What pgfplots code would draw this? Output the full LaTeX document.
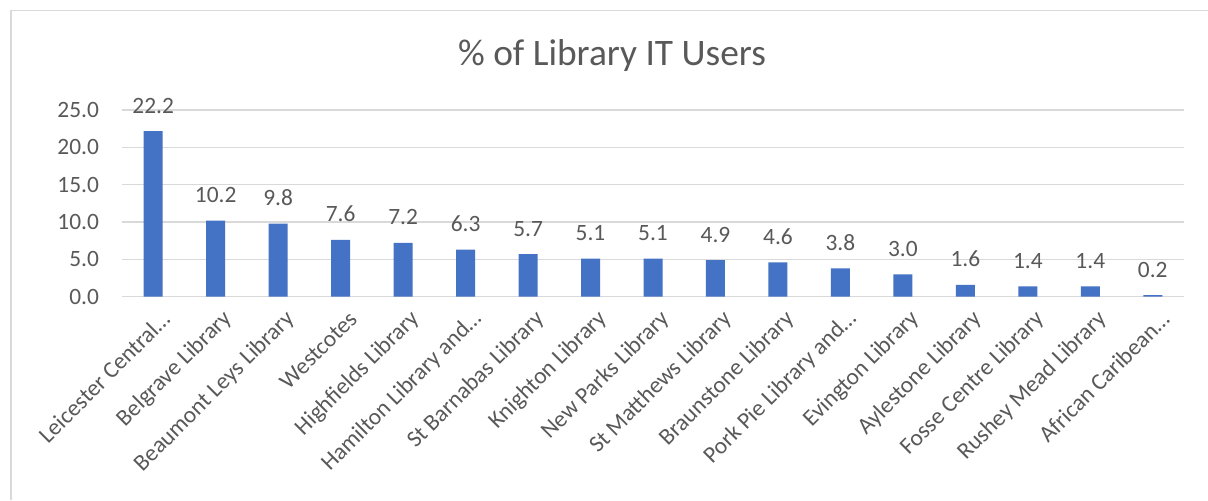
\documentclass[border=0pt]{standalone}
\usepackage{fontspec}
\setmainfont{Carlito}
\usepackage{pgfplots}
\pgfplotsset{compat=1.18}
\definecolor{barblue}{HTML}{4472C4}
\definecolor{txtgray}{HTML}{595959}
\definecolor{gridgray}{HTML}{D9D9D9}
\begin{document}
\begin{tikzpicture}
\useasboundingbox[fill=white] (0,0) rectangle (604pt,250pt);
% chart frame (cropped on right and bottom)
\draw[gridgray, line width=0.75pt] (5.5pt,0) -- (5.5pt,244.7pt) -- (604pt,244.7pt);
\node[anchor=base, font=\fontsize{18.7}{22}\selectfont, text=txtgray] at (306pt,217.5pt) {\% of Library IT Users};
\begin{axis}[
    at={(61pt,101.65pt)}, anchor=south west,
    scale only axis,
    width=531pt, height=93.3pt,
    ybar, bar width=9.5pt,
    xmin=-0.5, xmax=16.5,
    ymin=0, ymax=25,
    ytick={0,5,...,25},
    xtick=data,
    xticklabels={{Leicester Central…}, Belgrave Library, Beaumont Leys Library, Westcotes, Highfields Library, {Hamilton Library and…}, St Barnabas Library, Knighton Library, New Parks Library, St Matthews Library, Braunstone Library, {Pork Pie Library and…}, Evington Library, Aylestone Library, Fosse Centre Library, Rushey Mead Library, {African Caribean…}},
    major tick length=0pt,
    axis line style={draw=none},
    ymajorgrids, grid style={gridgray, line width=0.75pt},
    /pgf/number format/assume math mode=true,
    yticklabel={\pgfmathprintnumber[fixed, fixed zerofill, precision=1]{\tick}},
    yticklabel style={font=\fontsize{11.7}{14}\selectfont, text=txtgray, xshift=-8pt},
    xticklabel style={font=\fontsize{11.7}{14}\selectfont, text=txtgray, rotate=45, anchor=east, inner sep=0pt, yshift=-11pt, xshift=-2pt},
    nodes near coords={\pgfmathprintnumber[fixed, fixed zerofill, precision=1, assume math mode=true]{\pgfplotspointmeta}},
    every node near coord/.append style={font=\fontsize{11.7}{14}\selectfont, text=txtgray, anchor=base, yshift=9pt},
]
\addplot[fill=barblue, draw=none] coordinates {
    (0,22.2) (1,10.2) (2,9.8) (3,7.6) (4,7.2) (5,6.3) (6,5.7) (7,5.1) (8,5.1)
    (9,4.9) (10,4.6) (11,3.8) (12,3.0) (13,1.6) (14,1.4) (15,1.4) (16,0.2)
};
\end{axis}
\end{tikzpicture}
\end{document}
